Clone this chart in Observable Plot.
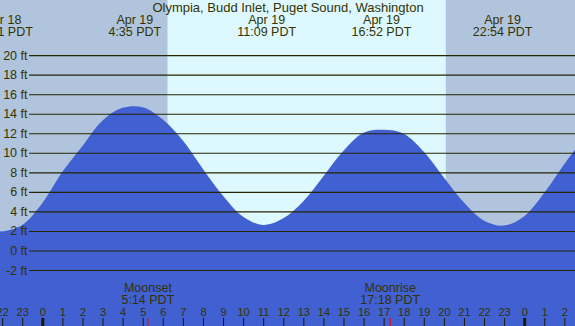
<!DOCTYPE html>
<html><head><meta charset="utf-8">
<script src="https://cdn.jsdelivr.net/npm/d3@7"></script>
<script src="https://cdn.jsdelivr.net/npm/@observablehq/plot@0.6"></script>
<style>html,body{margin:0;padding:0;background:#fff;overflow:hidden}</style>
</head><body><div id="chart"></div>
<script>
const title = "Olympia, Budd Inlet, Puget Sound, Washington";
// water level; hours since Apr 19 00:00 PDT
const tideHour = [-2.2, -2, -1, 0, 1, 2, 3, 4, 5, 6, 7, 8, 9, 10, 11, 12, 13, 14, 15, 16, 17, 18, 19, 20, 21, 22, 23, 24, 25, 26, 26.6];
const tideFeet = [2.0, 1.95, 2.6, 4.85, 8.05, 10.7, 13.3, 14.6, 14.65, 13.4, 11.25, 8.35, 5.6, 3.45, 2.62, 3.3, 5.05, 7.6, 10.2, 12.05, 12.35, 11.95, 10.1, 7.47, 4.9, 3.05, 2.55, 3.5, 5.9, 8.85, 10.5];
// high / low tide labels
const extremeDate = ["Apr 18", "Apr 19", "Apr 19", "Apr 19", "Apr 19"];
const extremeTime = ["22:01 PDT", "4:35 PDT", "11:09 PDT", "16:52 PDT", "22:54 PDT"];
const extremeDayOffset = [-1, 0, 0, 0, 0];
// moon events
const moonEvent = ["Moonset", "Moonrise"];
const moonTime = ["5:14 PDT", "17:18 PDT"];
// sunrise / sunset (background shading)
const sunriseTime = "6:14";
const sunsetTime = "20:06";
// axis ticks
const feetTicks = [-2, 0, 2, 4, 6, 8, 10, 12, 14, 16, 18, 20];
const hourTicks = [-2, -1, 0, 1, 2, 3, 4, 5, 6, 7, 8, 9, 10, 11, 12, 13, 14, 15, 16, 17, 18, 19, 20, 21, 22, 23, 24, 25, 26];
const midnightHours = [0, 24];
// visible window
const viewStart = -2.107, viewEnd = 26.53;
const feetMin = -7.73, feetMax = 25.64;

const parseClock = s => { const [h, m] = s.split(" ")[0].split(":").map(Number); return h + m / 60; };

const tide = tideHour.map((h, i) => ({h, ft: tideFeet[i]}));
const extremes = extremeTime.map((t, i) => ({h: extremeDayOffset[i] * 24 + parseClock(t), label: extremeDate[i] + "\n" + t}));
const moons = moonTime.map((t, i) => ({h: parseClock(t), label: moonEvent[i] + "\n" + t}));
const sunrise = parseClock(sunriseTime), sunset = parseClock(sunsetTime);
const periods = [
  {x1: viewStart, x2: sunrise, night: true},
  {x1: sunrise, x2: sunset, night: false},
  {x1: sunset, x2: viewEnd, night: true}
];

const textColor = "#333300";
const font = "Liberation Sans, Arial, sans-serif";

const chart = Plot.plot({
  width: 575,
  height: 326,
  margin: 0,
  style: {fontFamily: font, background: "#b0c4de"},
  x: {domain: [viewStart, viewEnd], axis: null},
  y: {domain: [feetMin, feetMax], axis: null},
  marks: [
    Plot.rect(periods, {x1: "x1", x2: "x2", fill: d => d.night ? "#b0c4de" : "#ddf8ff"}),
    Plot.areaY(tide, {x: "h", y1: feetMin, y2: "ft", curve: "catmull-rom", fill: "#4160d2", clip: true}),
    Plot.ruleY(feetTicks, {y: d => d, x1: -0.66, x2: viewEnd, stroke: "#262600", strokeWidth: 1.1}),
    Plot.text(feetTicks, {y: d => d, frameAnchor: "left", dx: 27, textAnchor: "end", text: d => `${d} ft`, fill: textColor, fontSize: 12.5}),
    Plot.text([title], {frameAnchor: "top", lineAnchor: "top", dy: 2.5, text: d => d, fill: textColor, fontSize: 13}),
    Plot.text(extremes, {x: "h", frameAnchor: "top", lineAnchor: "top", dy: 14.5, lineHeight: 0.97, text: "label", fill: textColor, fontSize: 12.5}),
    Plot.text(moons, {x: "h", frameAnchor: "top", lineAnchor: "top", dy: 282.5, lineHeight: 0.97, text: "label", fill: textColor, fontSize: 12.5}),
    Plot.text(hourTicks, {x: d => d, frameAnchor: "top", lineAnchor: "top", dy: 307.5, text: d => String(((d % 24) + 24) % 24), fill: textColor, fontSize: 11}),
    Plot.ruleX(hourTicks, {x: d => d, insetTop: 318, stroke: "#1a1a00", strokeWidth: 1}),
    Plot.ruleX(midnightHours, {x: d => d, insetTop: 318, stroke: "#1a1a00", strokeWidth: 3}),
    Plot.ruleX(moons, {x: "h", insetTop: 318, stroke: "#ff0000", strokeWidth: 1})
  ]
});
document.getElementById("chart").appendChild(chart);
</script>
</body></html>
